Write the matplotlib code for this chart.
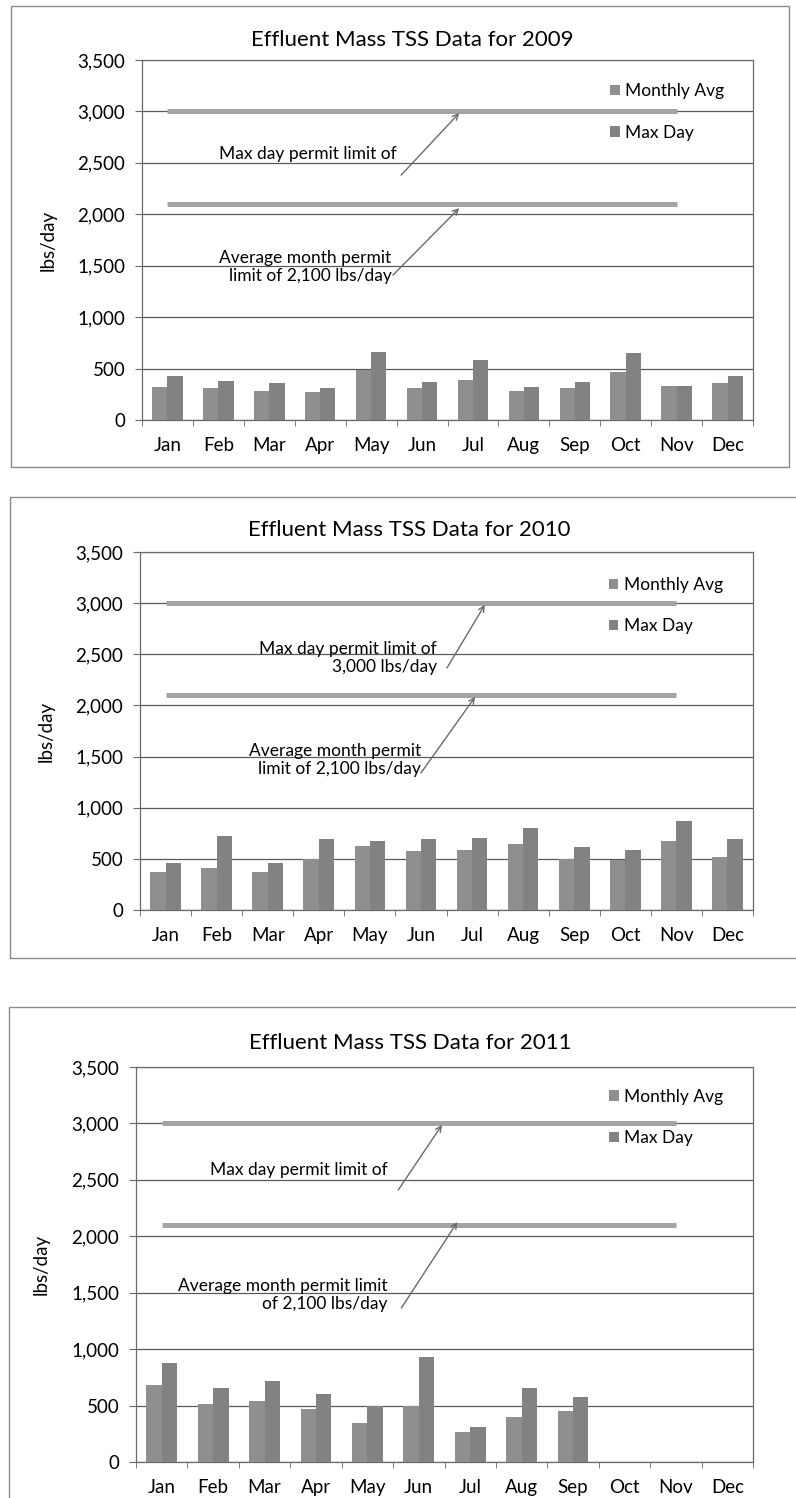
import numpy as np
import matplotlib
matplotlib.use("Agg")
import matplotlib.pyplot as plt
from matplotlib.patches import Rectangle
from matplotlib.ticker import FuncFormatter, FixedLocator

# ---- data -------------------------------------------------------------
months = ["Jan", "Feb", "Mar", "Apr", "May", "Jun",
          "Jul", "Aug", "Sep", "Oct", "Nov", "Dec"]

avg_2009 = [320, 310, 280, 270, 490, 310, 390, 280, 310, 470, 330, 360]
max_2009 = [430, 380, 360, 310, 660, 370, 580, 320, 370, 650, 330, 430]

avg_2010 = [370, 410, 370, 500, 630, 580, 590, 650, 500, 490, 670, 520]
max_2010 = [460, 720, 460, 690, 670, 690, 700, 800, 620, 590, 870, 690]

avg_2011 = [680, 510, 540, 470, 350, 500, 265, 400, 450, np.nan, np.nan, np.nan]
max_2011 = [880, 660, 720, 600, 500, 930, 310, 660, 575, np.nan, np.nan, np.nan]

max_day_limit = 3000      # lbs/day
avg_month_limit = 2100    # lbs/day
limit_span = ["Jan", "Nov"]

y_ticks = [0, 500, 1000, 1500, 2000, 2500, 3000, 3500]
series_labels = ["Monthly Avg", "Max Day"]

# ---- layout -----------------------------------------------------------
W, H = 796, 1498
FONT = ["Lato", "DejaVu Sans"]
plt.rcParams["font.family"] = FONT

fig = plt.figure(figsize=(W / 100, H / 100), dpi=100)
fig.patch.set_facecolor("white")


def fig_rect(left, top, right, bottom):
    return [left / W, 1 - bottom / H, (right - left) / W, (bottom - top) / H]


panels = [
    dict(year=2009, avg=avg_2009, mx=max_2009,
         box=(11, 6, 789, 467), axes=(142, 60, 753, 420),
         title_x=412, title_y=40,
         txt1=("Max day permit limit of", 4.5, 2590),
         arr1=((4.59, 2381), (5.73, 2984)),
         txt2=("Average month permit\nlimit of 2,100 lbs/day", 4.4, 1487),
         arr2=((4.43, 1409), (5.73, 2060)),
         leg=(0.766, 0.935)),
    dict(year=2010, avg=avg_2010, mx=max_2010,
         box=(10, 497, 800, 958), axes=(140, 552, 753, 910),
         title_x=409, title_y=530,
         txt1=("Max day permit limit of\n3,000 lbs/day", 5.31, 2465),
         arr1=((5.51, 2367), (6.25, 2983)),
         txt2=("Average month permit\nlimit of 2,100 lbs/day", 5.0, 1467),
         arr2=((5.0, 1340), (6.06, 2083)),
         leg=(0.765, 0.93)),
    dict(year=2011, avg=avg_2011, mx=max_2011,
         box=(9, 1007, 800, 1510), axes=(136, 1067, 753, 1462),
         title_x=410, title_y=1043,
         txt1=("Max day permit limit of", 4.4, 2587),
         arr1=((4.60, 2410), (5.45, 2986)),
         txt2=("Average month permit limit\nof 2,100 lbs/day", 4.4, 1480),
         arr2=((4.66, 1364), (5.75, 2126)),
         leg=(0.767, 0.945)),
]

bar_w = 0.3
avg_color = "#8f8f8f"
max_color = "#828282"
x = np.arange(len(months))
span = [months.index(limit_span[0]), months.index(limit_span[1])]

for p in panels:
    # outer frame around each chart
    bl, bt, br, bb = p["box"]
    fig.patches.append(Rectangle((bl / W, 1 - bb / H), (br - bl) / W, (bb - bt) / H,
                                 transform=fig.transFigure, fill=False,
                                 edgecolor="#8a8a8a", lw=1.0))

    ax = fig.add_axes(fig_rect(*p["axes"]))
    ax.set_xlim(-0.5, len(months) - 0.5)
    ax.set_ylim(0, 3500)

    b1 = ax.bar(x - bar_w / 2, p["avg"], width=bar_w, color=avg_color,
                label=series_labels[0], zorder=3)
    b2 = ax.bar(x + bar_w / 2, p["mx"], width=bar_w, color=max_color,
                label=series_labels[1], zorder=3)

    # permit limit lines
    ax.plot(span, [max_day_limit] * 2, color="#a4a4a4", lw=3.6,
            solid_capstyle="butt", zorder=4)
    ax.plot(span, [avg_month_limit] * 2, color="#a4a4a4", lw=3.6,
            solid_capstyle="butt", zorder=4)

    # grid and spines
    ax.yaxis.set_major_locator(FixedLocator(y_ticks))
    ax.yaxis.set_major_formatter(FuncFormatter(lambda v, _: f"{int(v):,}"))
    ax.grid(axis="y", color="#5a5a5a", lw=0.9, zorder=1)
    ax.set_axisbelow(True)
    for s in ax.spines.values():
        s.set_color("#6a6a6a")
        s.set_linewidth(0.9)

    ax.set_xticks(x)
    ax.set_xticklabels(months)
    ax.set_xticks(np.arange(-0.5, len(months)), minor=True)
    ax.tick_params(axis="x", which="major", length=0, pad=12, labelsize=13.5)
    ax.tick_params(axis="x", which="minor", length=4, color="#6a6a6a",
                   direction="out")
    ax.tick_params(axis="y", length=5, color="#6a6a6a", pad=7, labelsize=13.5)

    ax.set_ylabel("lbs/day", fontsize=13.5)
    ax.yaxis.set_label_coords(-0.14, 0.5)

    fig.text(p["title_x"] / W, 1 - p["title_y"] / H,
             f"Effluent Mass TSS Data for {p['year']}",
             ha="center", va="center", fontsize=16)

    # annotations for the permit limits
    s, tx, ty = p["txt1"]
    ax.text(tx, ty, s, ha="right", va="center", multialignment="right",
            fontsize=12.5, zorder=6, linespacing=1.1)
    s, tx, ty = p["txt2"]
    ax.text(tx, ty, s, ha="right", va="center", multialignment="right",
            fontsize=12.5, zorder=6, linespacing=1.1)
    for start, tip in (p["arr1"], p["arr2"]):
        ax.annotate("", xy=tip, xytext=start,
                    arrowprops=dict(arrowstyle="->", color="#6a6a6a", lw=1.0,
                                    shrinkA=0, shrinkB=0), zorder=6)

    ax.legend(handles=[b1, b2], loc="upper left", bbox_to_anchor=p["leg"],
              frameon=False, fontsize=12.5, handlelength=0.55, handleheight=0.55,
              handletextpad=0.3, labelspacing=1.45, borderpad=0,
              borderaxespad=0)

fig.savefig("out.png", dpi=100, facecolor="white")
